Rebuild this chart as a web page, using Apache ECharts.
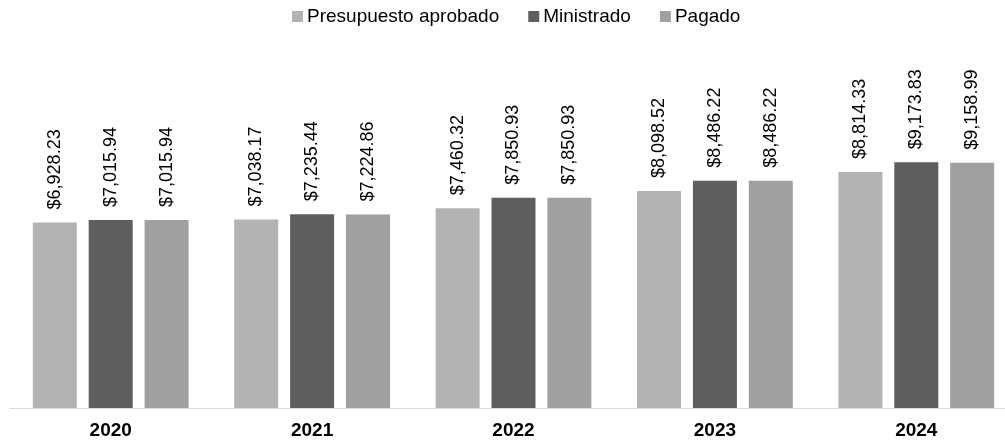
<!DOCTYPE html>
<html>
<head>
<meta charset="utf-8">
<script src="https://cdn.jsdelivr.net/npm/echarts@6/dist/echarts.min.js"></script>
<style>
  html, body { margin: 0; padding: 0; background: #fff; }
  #chart { width: 1005px; height: 444px; }
</style>
</head>
<body>
<div id="chart"></div>
<script>
// datos por año
var years = ['2020', '2021', '2022', '2023', '2024'];
var seriesNames = ['Presupuesto aprobado', 'Ministrado', 'Pagado'];
var aprobado = [6928.23, 7038.17, 7460.32, 8098.52, 8814.33];
var ministrado = [7015.94, 7235.44, 7850.93, 8486.22, 9173.83];
var pagado = [7015.94, 7224.86, 7850.93, 8486.22, 9158.99];
var colors = ['#b3b3b3', '#5e5e5e', '#a0a0a0'];

var font = 'Arial, "Liberation Sans", sans-serif';

// formato $x,xxx.xx
function money(v) {
    var parts = v.toFixed(2).split('.');
    parts[0] = parts[0].replace(/\B(?=(\d{3})+(?!\d))/g, ',');
    return '$' + parts.join('.');
}

function makeSeries(name, data, color) {
    return {
        name: name,
        type: 'bar',
        data: data,
        barWidth: 44,
        barGap: '27%',
        itemStyle: { color: color },
        label: {
            show: true,
            position: 'top',
            rotate: 90,
            align: 'left',
            verticalAlign: 'middle',
            distance: 13,
            color: '#000',
            fontSize: 18,
            fontFamily: font,
            formatter: function (p) { return money(p.value); }
        }
    };
}

var myChart = echarts.init(document.getElementById('chart'));
myChart.setOption({
    backgroundColor: '#fff',
    animation: false,
    color: colors,
    legend: {
        top: 2,
        left: 287,
        itemWidth: 11,
        itemHeight: 11,
        itemGap: 29,
        icon: 'rect',
        textStyle: { color: '#000', fontSize: 19, fontFamily: font, padding: [0, 0, 0, -1] },
        data: seriesNames
    },
    grid: { left: 10, width: 1007, top: 33, bottom: 36, outerBoundsMode: 'none', containLabel: false },
    xAxis: {
        type: 'category',
        data: years,
        axisLine: { lineStyle: { color: '#d9d9d9', width: 1 } },
        axisTick: { show: false },
        axisLabel: { color: '#000', fontSize: 19, fontWeight: 'bold', fontFamily: font, margin: 13 }
    },
    yAxis: {
        type: 'value',
        min: 0,
        max: 14000,
        show: false,
        splitLine: { show: false }
    },
    series: [
        makeSeries(seriesNames[0], aprobado, colors[0]),
        makeSeries(seriesNames[1], ministrado, colors[1]),
        makeSeries(seriesNames[2], pagado, colors[2])
    ]
});
</script>
</body>
</html>
